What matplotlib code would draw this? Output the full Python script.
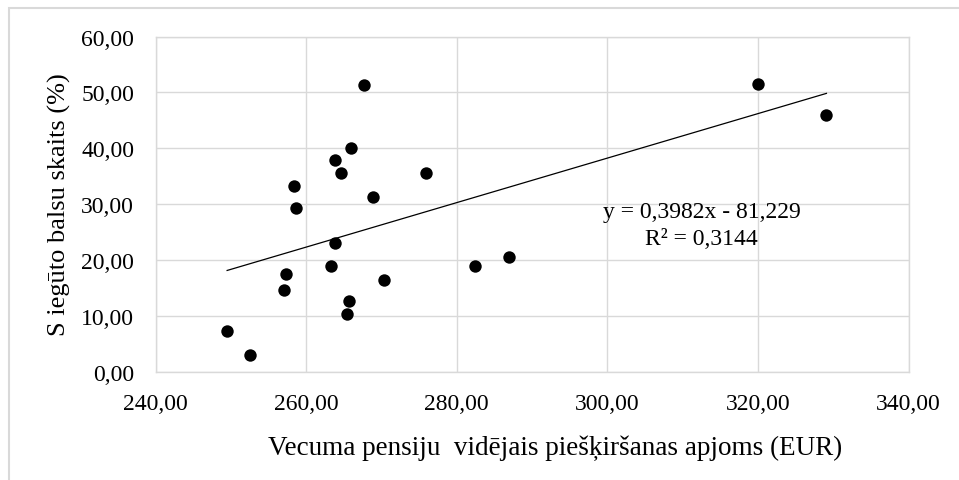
import matplotlib
matplotlib.use("Agg")
import matplotlib.pyplot as plt
from matplotlib.ticker import FuncFormatter, MultipleLocator
from matplotlib.patches import Rectangle
import numpy as np

# Data
pension_eur = [249.5, 252.6, 257.3, 257.1, 258.4, 258.7, 263.8, 264.6, 266.0, 267.7,
               268.9, 263.8, 263.3, 270.4, 265.7, 265.4, 275.9, 282.4, 286.9, 320.0, 329.1]
vote_share = [7.3, 3.0, 17.4, 14.7, 33.3, 29.3, 37.9, 35.6, 40.0, 51.3,
              31.3, 23.0, 19.0, 16.4, 12.7, 10.3, 35.6, 19.0, 20.6, 51.5, 45.9]
trend_slope = 0.3982
trend_intercept = -81.229
r_squared = 0.3144

x_label = "Vecuma pensiju  vidējais piešķiršanas apjoms (EUR)"
y_label = "S iegūto balsu skaits (%)"

plt.rcParams['font.family'] = ['Liberation Serif', 'DejaVu Serif']

fig = plt.figure(figsize=(9.59, 4.81), dpi=100)
fig.patches.append(Rectangle((9/959, -0.1), 1.2, (481-9)/481 + 0.1, transform=fig.transFigure,
                             fill=False, edgecolor='#d9d9d9', linewidth=1.5))

ax = fig.add_axes([155.6/959, 1-372.7/481, (908.5-155.6)/959, (372.7-37.5)/481])

ax.scatter(pension_eur, vote_share, s=80, color='black', zorder=3, linewidths=0)

xs = np.array([min(pension_eur), max(pension_eur)])
ax.plot(xs, trend_slope*xs + trend_intercept, color='black', linewidth=0.9, zorder=2)

ax.set_xlim(240, 340)
ax.set_ylim(0, 60)
ax.xaxis.set_major_locator(MultipleLocator(20))
ax.yaxis.set_major_locator(MultipleLocator(10))
fmt = FuncFormatter(lambda v, p: f"{v:.2f}".replace('.', ','))
ax.xaxis.set_major_formatter(fmt)
ax.yaxis.set_major_formatter(fmt)
ax.tick_params(axis='both', length=0, labelsize=17, colors='black')
ax.tick_params(axis='x', pad=15)
ax.tick_params(axis='y', pad=15.5)
ax.grid(True, color='#d9d9d9', linewidth=1)
ax.set_axisbelow(True)
for s in ax.spines.values():
    s.set_color('#d9d9d9')
    s.set_linewidth(1)

eq = f"y = {trend_slope:.4f}x - {abs(trend_intercept):.3f}".replace('.', ',')
r2 = f"R² = {r_squared:.4f}".replace('.', ',')
ax.text(312.5, 26.3, eq + "\n" + r2, ha='center', va='center', fontsize=17,
        multialignment='center', linespacing=1.35)

fig.text(555/959, 1-448/481, x_label, ha='center', va='center', fontsize=19.5)
fig.text(59/959, 1-205/481, y_label, ha='center', va='center', fontsize=19, rotation=90)

fig.savefig("out.png", dpi=100)
